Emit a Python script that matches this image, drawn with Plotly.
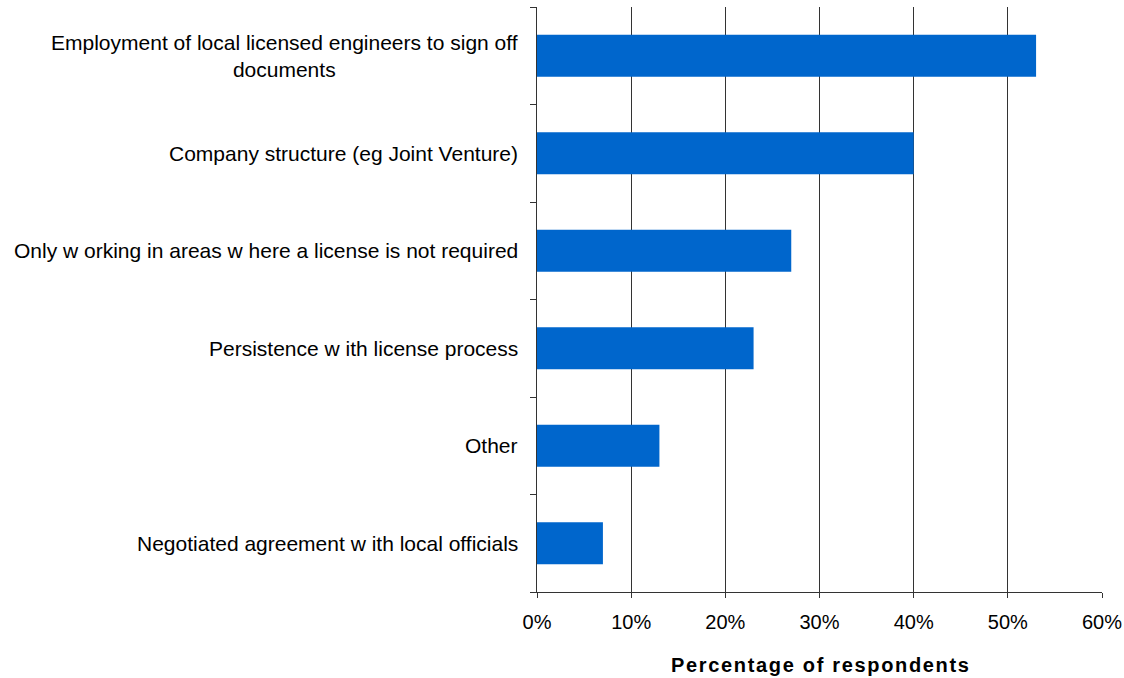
import plotly.graph_objects as go

categories = [
    "Negotiated agreement w ith local officials",
    "Other",
    "Persistence w ith license process",
    "Only w orking in areas w here a license is not required",
    "Company structure (eg Joint Venture)",
    "Employment of local licensed engineers to sign off<br>documents",
]
values = [0.07, 0.13, 0.23, 0.27, 0.40, 0.53]
x_ticks = [0, 0.1, 0.2, 0.3, 0.4, 0.5, 0.6]
x_title = "Percentage of respondents"

FONT = "Liberation Sans, Arial, sans-serif"


def spaced(text):
    # letter-spaced bold title: hair spaces between letters, wider gap between words
    words = text.split(" ")
    return "&#8202; &#8202;".join("&#8202;".join(w) for w in words)


fig = go.Figure(
    go.Bar(
        x=values,
        y=categories,
        orientation="h",
        marker=dict(color="#0066CC", line=dict(width=0)),
        width=0.43,
    )
)

# category labels as annotations so wrapped lines stay centred
annotations = [
    dict(
        x=-0.03, xref="paper", y=c, yref="y",
        text=c, showarrow=False, xanchor="right", align="center",
        font=dict(family=FONT, size=21, color="#000000"),
    )
    for c in categories
]
annotations.append(
    dict(
        x=0.5, xref="paper", y=-0.125, yref="paper", yanchor="middle",
        text="<b>" + spaced(x_title) + "</b>",
        showarrow=False,
        font=dict(family=FONT, size=20, color="#000000"),
    )
)

fig.update_layout(
    width=1124,
    height=678,
    margin=dict(l=537, r=22, t=7, b=86),
    paper_bgcolor="white",
    plot_bgcolor="white",
    showlegend=False,
    font=dict(family=FONT, size=20, color="#000000"),
    annotations=annotations,
    xaxis=dict(
        range=[0, 0.6],
        tickvals=x_ticks,
        tickformat=".0%",
        automargin=False,
        showgrid=True,
        gridcolor="#333333",
        gridwidth=1,
        zeroline=False,
        showline=True,
        linecolor="#333333",
        linewidth=1,
        ticks="outside",
        ticklen=5,
        tickcolor="#333333",
        tickfont=dict(family=FONT, size=20, color="#000000"),
        ticklabelstandoff=7,
    ),
    yaxis=dict(
        categoryorder="array",
        categoryarray=categories,
        range=[-0.5, 5.5],
        automargin=False,
        showticklabels=False,
        showgrid=False,
        zeroline=False,
        showline=True,
        linecolor="#333333",
        linewidth=1,
        ticks="outside",
        tickson="boundaries",
        ticklen=6,
        tickcolor="#333333",
    ),
)

fig.write_html("out.html")
